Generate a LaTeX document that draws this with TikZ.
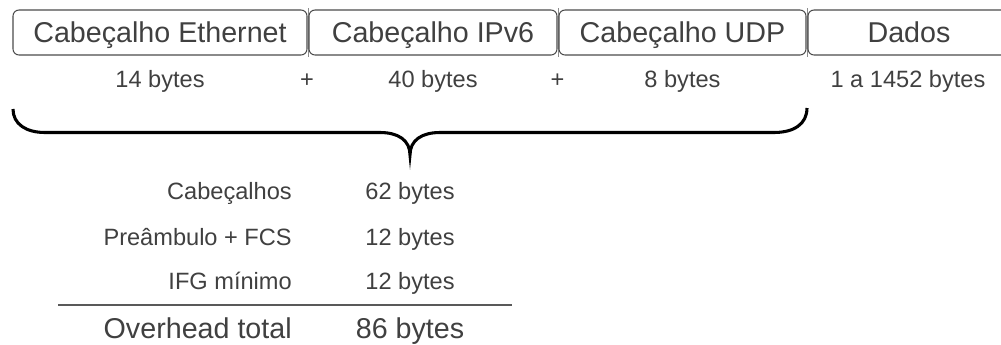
\documentclass[tikz,border=0pt]{standalone}
\usepackage{fontspec}
\setmainfont{Liberation Sans}
\begin{document}
\begin{tikzpicture}[x=0.75pt,y=-0.75pt,
  txt/.style={text=black!75},
  big/.style={txt,font=\fontsize{21.5}{26}\selectfont},
  small/.style={txt,font=\fontsize{17.7}{21}\selectfont},
  field/.style={big,draw=black!70,line width=0.8pt,rounded corners=4.5pt,
    minimum height=33.75pt,inner sep=0pt,text height=15.5pt,text depth=0pt},
  sizelbl/.style={small,anchor=base,inner sep=0pt},
  rowlbl/.style={inner sep=0pt,anchor=base east},
  rowval/.style={inner sep=0pt,anchor=base},
  brace/.style={draw=black,line width=2.3pt},
  rule/.style={draw=black!65,line width=0.8pt}]
\useasboundingbox (0,0) rectangle (1001,344);
\clip (0,0) rectangle (1001,344);

% frame fields
\draw[black!45,line width=0.4pt] (308,8) -- (308,57) (558,8) -- (558,57) (807,8) -- (807,57);
\node[field,minimum width=220.5pt] (eth) at (160,32.5) {Cabeçalho Ethernet};
\node[field,minimum width=186pt] (ipv6) at (433,32.5) {Cabeçalho IPv6};
\node[field,minimum width=185.25pt] (udp) at (682.5,32.5) {Cabeçalho UDP};
\node[field,minimum width=151.5pt] (dados) at (909,32.5) {Dados};

% field sizes
\node[sizelbl] (sEth) at (160,87.3) {14 bytes};
\node[sizelbl] (p1) at (307,87.3) {+};
\node[sizelbl] (sIp) at (433,87.3) {40 bytes};
\node[sizelbl] (p2) at (557.5,87.3) {+};
\node[sizelbl] (sUdp) at (682.5,87.3) {8 bytes};
\node[sizelbl] (sDados) at (908,87.3) {1 a 1452 bytes};

% brace over the header fields
\draw[brace] (13,109) .. controls (13,124) and (26,132.5) .. (45,132.5)
  -- (380,132.5) .. controls (398,132.5) and (410,140) .. (410,155)
  .. controls (410,140) and (422,132.5) .. (440,132.5)
  -- (774,132.5) .. controls (794,132.5) and (807,124) .. (807,108);

% overhead summary
\node[small,rowlbl] (lHdr) at (292,199.5) {Cabeçalhos};
\node[small,rowval] (vHdr) at (410,199.5) {62 bytes};
\node[small,rowlbl] (lPre) at (292,245) {Preâmbulo + FCS};
\node[small,rowval] (vPre) at (410,245) {12 bytes};
\node[small,rowlbl] (lIfg) at (292,289) {IFG mínimo};
\node[small,rowval] (vIfg) at (410,289) {12 bytes};
\coordinate (ruleL) at (58,305);
\coordinate (ruleR) at (512,305);
\draw[rule] (ruleL) -- (ruleR);
\node[big,rowlbl] (lTot) at (292,338) {Overhead total};
\node[big,rowval] (vTot) at (410,338) {86 bytes};
\end{tikzpicture}
\end{document}
